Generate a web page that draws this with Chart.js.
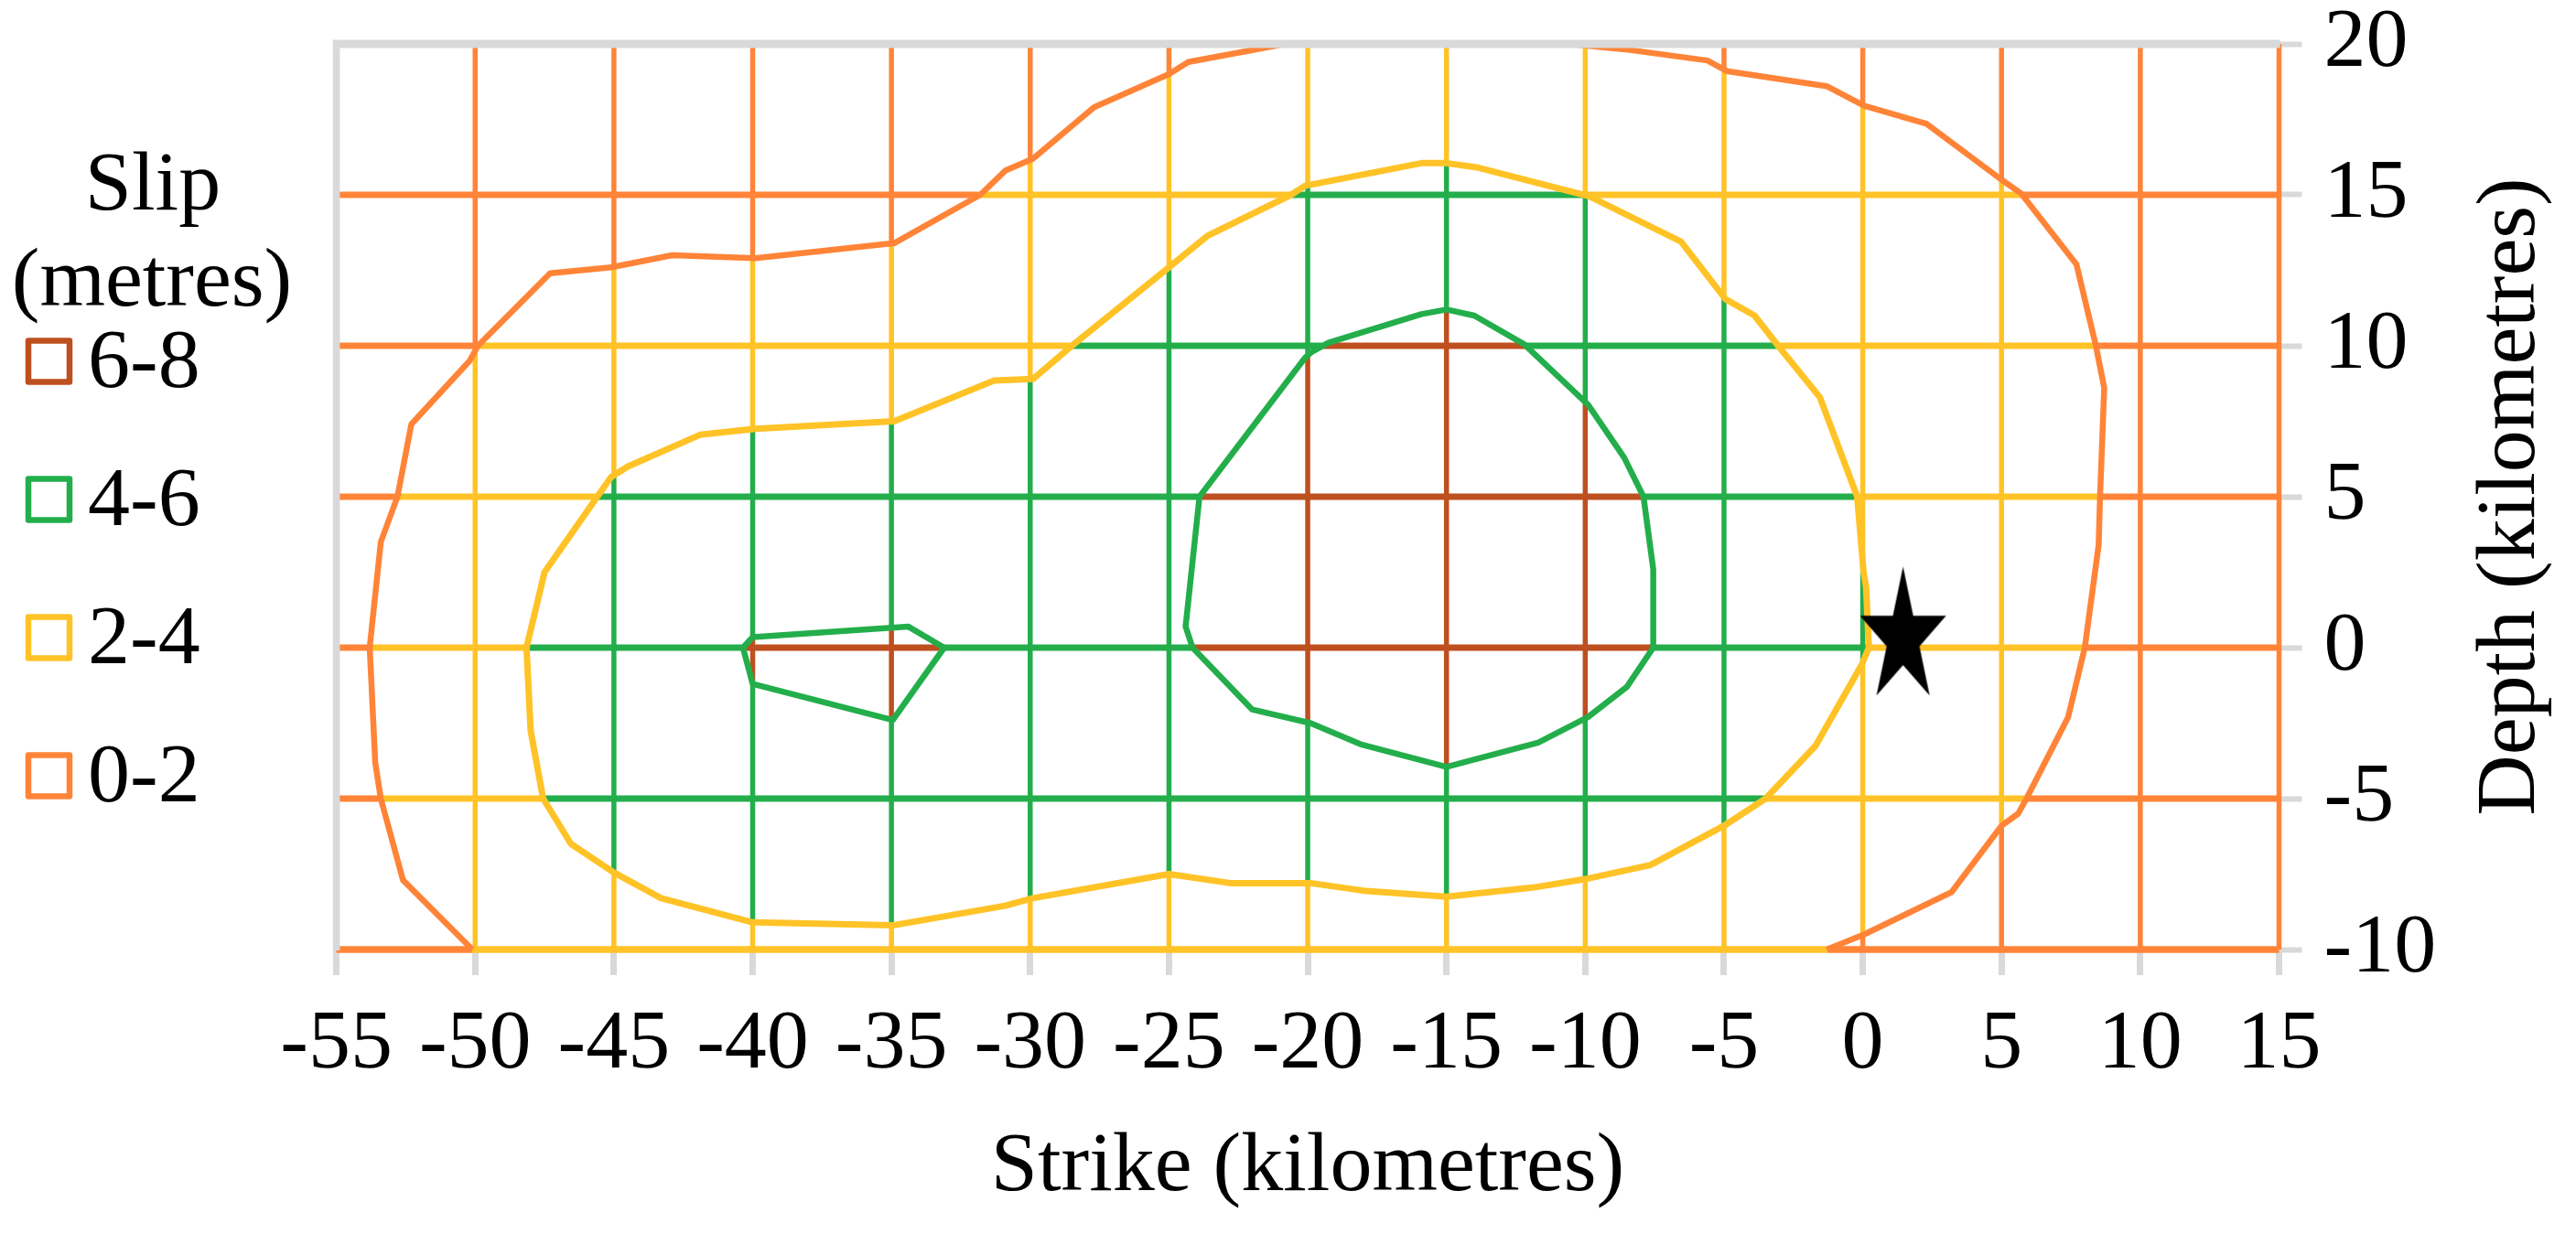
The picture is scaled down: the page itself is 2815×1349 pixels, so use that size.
<!DOCTYPE html>
<html><head><meta charset="utf-8">
<script src="https://cdn.jsdelivr.net/npm/chart.js@4"></script>
<style>html,body{margin:0;padding:0;background:#fff;overflow:hidden}#wrap{width:2815px;height:1349px}canvas{display:block}</style>
</head><body><div id="wrap"><canvas id="c" width="2815" height="1349" style="width:2815px;height:1349px"></canvas></div>
<script>
// ---------- DATA ----------
const strikeTicks = [-55,-50,-45,-40,-35,-30,-25,-20,-15,-10,-5,0,5,10,15];
const depthTicks = [-10,-5,0,5,10,15,20];
const bandLabels = ['0-2','2-4','4-6','6-8'];
const bandColors = ['#FF8438','#FFC327','#23AE4B','#BE4F1F'];
// contour at 2 m slip (west/bottom piece, top edge -> bottom edge) [strike, depth]
const contour2West = [[-20.8,20],[-24.3,19.4],[-25.0,19.0],[-27.7,17.9],[-29.9,16.2],[-30.9,15.8],[-31.8,15.0],[-34.9,13.4],[-39.9,12.9],[-42.9,13.0],[-45.1,12.6],[-47.3,12.4],[-49.9,10.0],[-50.2,9.5],[-52.3,7.4],[-52.8,5.0],[-53.4,3.5],[-53.8,0.0],[-53.6,-3.8],[-53.4,-5.0],[-52.6,-7.7],[-50.1,-10]];
// contour at 2 m slip (east piece, bottom edge -> top edge)
const contour2East = [[-1.3,-10],[0.05,-9.5],[3.2,-8.1],[5.0,-5.9],[5.6,-5.5],[5.9,-5.0],[7.4,-2.3],[8.0,0.0],[8.5,3.4],[8.55,5.0],[8.7,8.6],[8.4,10.0],[7.7,12.7],[5.7,15.05],[5.0,15.5],[2.3,17.35],[0.05,17.95],[-1.3,18.6],[-4.9,19.1],[-5.6,19.45],[-8.4,19.8],[-10.6,20]];
// contour at 4 m slip (closed)
const contour4 = [[-15.0,16.05],[-15.9,16.05],[-20.1,15.3],[-20.6,15.0],[-23.6,13.65],[-25.0,12.6],[-28.5,10.0],[-29.9,8.9],[-31.3,8.85],[-34.9,7.5],[-39.9,7.25],[-41.9,7.05],[-44.5,6.0],[-45.1,5.65],[-45.6,5.0],[-47.5,2.5],[-48.15,0.0],[-48.0,-2.75],[-47.55,-5.0],[-46.55,-6.5],[-45.0,-7.45],[-43.3,-8.3],[-40.0,-9.1],[-34.95,-9.2],[-30.9,-8.55],[-29.9,-8.3],[-25.0,-7.5],[-22.8,-7.8],[-19.9,-7.8],[-18.0,-8.05],[-15.0,-8.25],[-11.9,-7.95],[-9.9,-7.65],[-7.65,-7.2],[-5.0,-5.9],[-3.5,-5.0],[-1.7,-3.25],[-0.03,-0.55],[0.22,0.0],[0.12,2.0],[0.03,2.5],[-0.2,5.0],[-1.55,8.3],[-3.05,10.0],[-3.9,11.0],[-4.95,11.55],[-6.55,13.45],[-9.85,14.95],[-13.85,15.9]];
// contours at 6 m slip (closed)
const contour6Main = [[-15.0,11.2],[-14.0,11.0],[-12.2,10.05],[-9.9,8.05],[-8.6,6.3],[-7.9,5.0],[-7.55,2.6],[-7.55,0.0],[-8.5,-1.3],[-9.9,-2.3],[-11.7,-3.15],[-15.0,-3.95],[-18.1,-3.2],[-19.9,-2.5],[-22.0,-2.05],[-24.15,0.0],[-24.4,0.7],[-23.9,5.0],[-20.1,9.6],[-19.85,9.8],[-19.25,10.1],[-15.9,11.05]];
const contour6Small = [[-40.0,0.35],[-34.4,0.7],[-33.1,0.0],[-34.95,-2.4],[-40.0,-1.2],[-40.35,0.0]];
// hypocentre (star)
const hypocentre = [[1.45,0.55]];

// ---------- helpers ----------
function inPoly(px,py,poly){let ins=false;for(let i=0,j=poly.length-1;i<poly.length;j=i++){const xi=poly[i][0],yi=poly[i][1],xj=poly[j][0],yj=poly[j][1];if(((yi>py)!==(yj>py))&&(px<(xj-xi)*(py-yi)/(yj-yi)+xi))ins=!ins;}return ins;}
const region2 = contour2West.concat(contour2East);
function band(x,y){let b=0;if(inPoly(x,y,region2))b++;if(inPoly(x,y,contour4))b++;if(inPoly(x,y,contour6Main)||inPoly(x,y,contour6Small))b++;return b;}
const xMin=strikeTicks[0],xMax=strikeTicks[strikeTicks.length-1],yMin=depthTicks[0],yMax=depthTicks[depthTicks.length-1];
function runs(fixed,vertical,from,to){const step=0.01;const n=Math.round((to-from)/step);let cur=null,start=from;const out=[];for(let k=0;k<n;k++){const t=from+(k+0.5)*step;let px=vertical?fixed:t,py=vertical?t:fixed;if(!vertical&&fixed===yMin)py+=0.005;if(vertical&&fixed===xMax)px-=0.005;const b=band(px,py);if(cur===null)cur=b;else if(b!==cur){const e=from+k*step;out.push([start,e,cur]);start=e;cur=b;}}out.push([start,to,cur]);return out;}
const pts = arr => arr.map(p=>({x:p[0],y:p[1]}));
const closed = arr => pts(arr.concat([arr[0]]));

const datasets = [];
// grid wireframe coloured by slip band
strikeTicks.filter(v=>v!==xMin).forEach(xv=>{runs(xv,true,yMin,yMax).forEach(r=>{datasets.push({data:[{x:xv,y:r[0]},{x:xv,y:r[1]}],borderColor:bandColors[r[2]],borderWidth:5.5,order:3});});});
depthTicks.filter(v=>v!==yMax).forEach(yv=>{runs(yv,false,xMin,xMax).forEach(r=>{datasets.push({data:[{x:r[0],y:yv},{x:r[1],y:yv}],borderColor:bandColors[r[2]],borderWidth:yv===yMin?7.5:7,order:2});});});
// contour lines
datasets.push({data:pts(contour2West),borderColor:bandColors[0],borderWidth:6.5,order:1});
datasets.push({data:pts(contour2East),borderColor:bandColors[0],borderWidth:6.5,order:1});
datasets.push({data:closed(contour4),borderColor:bandColors[1],borderWidth:7,order:1});
datasets.push({data:closed(contour6Main),borderColor:bandColors[2],borderWidth:6.5,order:1});
datasets.push({data:closed(contour6Small),borderColor:bandColors[2],borderWidth:6.5,order:1});

function makeStar(w,h){const c=document.createElement('canvas');c.width=w;c.height=h;const g=c.getContext('2d');const sx=w/1.902,sy=h/1.809,cx=w/2,cy=sy;g.beginPath();for(let k=0;k<10;k++){const r=k%2===0?1:0.382;const a=-Math.PI/2+k*Math.PI/5;const px=cx+Math.cos(a)*r*sx,py=cy+Math.sin(a)*r*sy;if(k)g.lineTo(px,py);else g.moveTo(px,py);}g.closePath();g.fillStyle='#000';g.fill();return c;}
datasets.push({data:pts(hypocentre),showLine:false,pointStyle:makeStar(94,141),pointRadius:10,order:0});

datasets.forEach(d=>{d.pointRadius=d.pointRadius||0;d.tension=0;d.clip=false;d.fill=false;d.borderJoinStyle='round';if(d.showLine===undefined)d.showLine=true;});

const FONT = "'Liberation Serif','Times New Roman',serif";
Chart.defaults.font.family = FONT;
Chart.defaults.color = '#000';

const decor = {
  id:'decor',
  afterDatasetsDraw(chart){
    const {ctx,chartArea:a}=chart;ctx.save();ctx.strokeStyle='#D9D9D9';
    ctx.lineWidth=9;ctx.beginPath();ctx.moveTo(a.left-3.8,a.top);ctx.lineTo(a.right+1,a.top);ctx.stroke();
    ctx.lineWidth=7.6;ctx.beginPath();ctx.moveTo(a.left,a.top);ctx.lineTo(a.left,a.bottom+1);ctx.stroke();
    ctx.restore();
  },
  afterDraw(chart){
    const ctx=chart.ctx;ctx.save();ctx.fillStyle='#000';ctx.font="92px "+FONT;ctx.textBaseline='alphabetic';
    ctx.textAlign='center';ctx.fillText('Slip',167,229);ctx.fillText('(metres)',166,334);
    const order=[3,2,1,0];
    order.forEach((b,i)=>{const cy=395+i*151;ctx.strokeStyle=bandColors[b];ctx.lineWidth=6.5;ctx.lineJoin='round';ctx.strokeRect(31,cy-22.5,45,45);ctx.textAlign='left';ctx.fillText(bandLabels[b],96,cy+27.5);});
    ctx.translate(2769,543);ctx.rotate(-Math.PI/2);ctx.textAlign='center';ctx.fillText('Depth (kilometres)',0,0);
    ctx.restore();
  }
};

new Chart(document.getElementById('c'),{
  type:'line',
  data:{datasets},
  options:{
    responsive:false,animation:false,events:[],devicePixelRatio:1,
    layout:{padding:{left:367.6,top:48,right:0,bottom:0}},
    plugins:{legend:{display:false},tooltip:{enabled:false}},
    scales:{
      x:{type:'linear',position:'bottom',min:xMin,max:xMax,
        afterBuildTicks:s=>{s.ticks=strikeTicks.map(v=>({value:v}));},
        ticks:{font:{size:92},color:'#000',padding:22,maxRotation:0,autoSkip:false},
        grid:{drawOnChartArea:false,drawTicks:true,tickLength:28,tickColor:'#D9D9D9',tickWidth:7},
        border:{display:false},
        title:{display:true,text:'Strike (kilometres)',font:{size:92},color:'#000',padding:{top:0,bottom:17}},
        afterFit:s=>{s.height=311;s.paddingLeft=0;s.paddingRight=0;}},
      y:{type:'linear',position:'right',min:yMin,max:yMax,
        afterBuildTicks:s=>{s.ticks=depthTicks.map(v=>({value:v}));},
        ticks:{font:{size:92},color:'#000',padding:24,autoSkip:false},
        grid:{drawOnChartArea:false,drawTicks:true,tickLength:25,tickColor:'#D9D9D9',tickWidth:6},
        border:{display:false},
        afterFit:s=>{s.width=324.5;s.paddingTop=0;s.paddingBottom=0;}}
    }
  },
  plugins:[decor]
});
</script></body></html>
